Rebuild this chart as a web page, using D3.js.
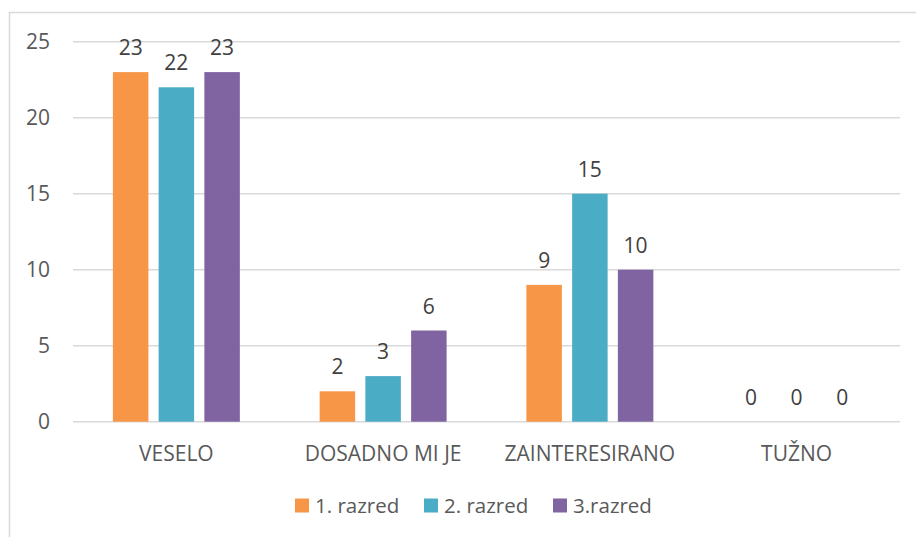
<!DOCTYPE html>
<html>
<head>
<meta charset="utf-8">
<script src="https://cdn.jsdelivr.net/npm/d3@7"></script>
<style>
  html, body { margin: 0; padding: 0; background: #fff; }
  svg { display: block; font-family: "Open Sans", sans-serif; }
</style>
</head>
<body>
<div id="chart"></div>
<script>
// podaci
const categories = ['VESELO', 'DOSADNO MI JE', 'ZAINTERESIRANO', 'TUŽNO'];
const seriesNames = ['1. razred', '2. razred', '3.razred'];
const razred1 = [23, 2, 9, 0];
const razred2 = [22, 3, 15, 0];
const razred3 = [23, 6, 10, 0];
const yTicks = [0, 5, 10, 15, 20, 25];

const colors = ['#F79646', '#4BACC6', '#8064A2'];
const seriesValues = [razred1, razred2, razred3];

const width = 916, height = 537;
const plot = { left: 73, right: 900, top: 41.7, bottom: 421.7 };

const svg = d3.select('#chart').append('svg')
  .attr('width', width).attr('height', height);

// okvir
svg.append('rect')
  .attr('x', 9.5).attr('y', 12.5).attr('width', 1000).attr('height', 1000)
  .attr('fill', 'none').attr('stroke', '#d9d9d9').attr('stroke-width', 1.5);

const y = d3.scaleLinear().domain([0, 25]).range([plot.bottom, plot.top]);
const x0 = d3.scaleBand().domain(categories).range([plot.left, plot.right])
  .paddingInner(0.386).paddingOuter(0.193);
const x1 = d3.scaleBand().domain(seriesNames).range([0, x0.bandwidth()])
  .paddingInner(0.224).paddingOuter(0);

// mreža
svg.append('g').selectAll('line')
  .data(yTicks).join('line')
  .attr('x1', plot.left).attr('x2', plot.right)
  .attr('y1', d => y(d)).attr('y2', d => y(d))
  .attr('stroke', '#d9d9d9').attr('stroke-width', 1.5);

// oznake y osi
svg.append('g').selectAll('text')
  .data(yTicks).join('text')
  .attr('x', 50).attr('y', d => y(d)).attr('dy', '0.36em')
  .attr('text-anchor', 'end').attr('font-size', '21px').attr('fill', '#595959')
  .text(d => d);

// stupci
const rows = [];
categories.forEach((c, i) => {
  seriesNames.forEach((s, j) => rows.push({ cat: c, series: s, j, value: seriesValues[j][i] }));
});

const g = svg.append('g');
g.selectAll('rect')
  .data(rows).join('rect')
  .attr('x', d => x0(d.cat) + x1(d.series))
  .attr('y', d => y(d.value))
  .attr('width', x1.bandwidth())
  .attr('height', d => y(0) - y(d.value))
  .attr('fill', d => colors[d.j]);

g.selectAll('text')
  .data(rows).join('text')
  .attr('x', d => x0(d.cat) + x1(d.series) + x1.bandwidth() / 2)
  .attr('y', d => y(d.value) - 17)
  .attr('text-anchor', 'middle').attr('font-size', '21px').attr('fill', '#404040')
  .text(d => d.value);

// kategorije
svg.append('g').selectAll('text')
  .data(categories).join('text')
  .attr('x', d => x0(d) + x0.bandwidth() / 2)
  .attr('y', 460.7)
  .attr('text-anchor', 'middle').attr('font-size', '21px').attr('fill', '#595959')
  .text(d => d);

// legenda
const legendX = [295, 424, 553];
const legend = svg.append('g').selectAll('g')
  .data(seriesNames).join('g')
  .attr('transform', (d, i) => `translate(${legendX[i]},0)`);
legend.append('rect')
  .attr('x', 0).attr('y', 498.5).attr('width', 14).attr('height', 14)
  .attr('fill', (d, i) => colors[i]);
legend.append('text')
  .attr('x', 20).attr('y', 512.5)
  .attr('font-size', '20.5px').attr('fill', '#595959')
  .text(d => d);
</script>
</body>
</html>
